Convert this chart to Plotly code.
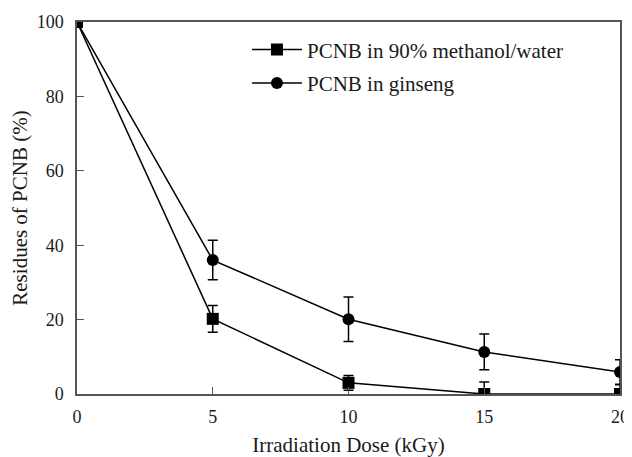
import plotly.graph_objects as go

dose = [0, 5, 10, 15, 20]
methanol = [100, 20.2, 3.0, 0.0, 0.0]
methanol_err = [0, 3.6, 2.0, 3.2, 2.5]
ginseng = [100, 36.0, 20.1, 11.3, 5.9]
ginseng_err = [0, 5.3, 6.0, 4.8, 3.3]
names = ["PCNB in 90% methanol/water", "PCNB in ginseng"]

FONT = "Liberation Serif"
TXT = "#1a1a1a"
fig = go.Figure()
fig.add_trace(go.Scatter(
    x=dose, y=methanol, name=names[0], mode="lines+markers", legendgroup="a",
    line=dict(color="black", width=1.5),
    marker=dict(symbol="square", size=12, color="black"),
    error_y=dict(type="data", array=methanol_err, visible=True, color="black", thickness=1.5, width=5),
))
fig.add_trace(go.Scatter(
    x=dose, y=ginseng, name=names[1], mode="lines+markers", legendgroup="b",
    line=dict(color="black", width=1.5),
    marker=dict(symbol="circle", size=12, color="black"),
    error_y=dict(type="data", array=ginseng_err, visible=True, color="black", thickness=1.5, width=5),
))

axis_common = dict(
    showline=True, linecolor="#555555", linewidth=1.5, mirror=True,
    ticks="inside", ticklen=7, tickcolor="#555555", tickwidth=1,
    showgrid=False, zeroline=False, automargin=False,
    tickfont=dict(family=FONT, size=18, color=TXT),
)
fig.update_xaxes(range=[0, 20], tickvals=dose, ticklabelstandoff=6, title=dict(text="Irradiation Dose (kGy)",
                 font=dict(family=FONT, size=21, color=TXT), standoff=17), **axis_common)
fig.update_yaxes(range=[0, 100], tickvals=[0, 20, 40, 60, 80, 100], ticklabelstandoff=8, title=dict(text="Residues of PCNB (%)",
                 font=dict(family=FONT, size=21, color=TXT), standoff=8), **axis_common)

# page body has an 8px default margin; compensate so the plot area lands where the reference has it
fig.update_layout(
    width=624, height=449,
    margin=dict(l=69, r=12, t=14, b=63),
    plot_bgcolor="white", paper_bgcolor="white",
    showlegend=True,
    legend=dict(x=0.313, y=0.98, xanchor="left", yanchor="top",
                font=dict(family=FONT, size=21, color=TXT),
                bgcolor="rgba(0,0,0,0)", tracegroupgap=3, itemwidth=50),
    font=dict(family=FONT),
)
fig.write_html("out.html")
